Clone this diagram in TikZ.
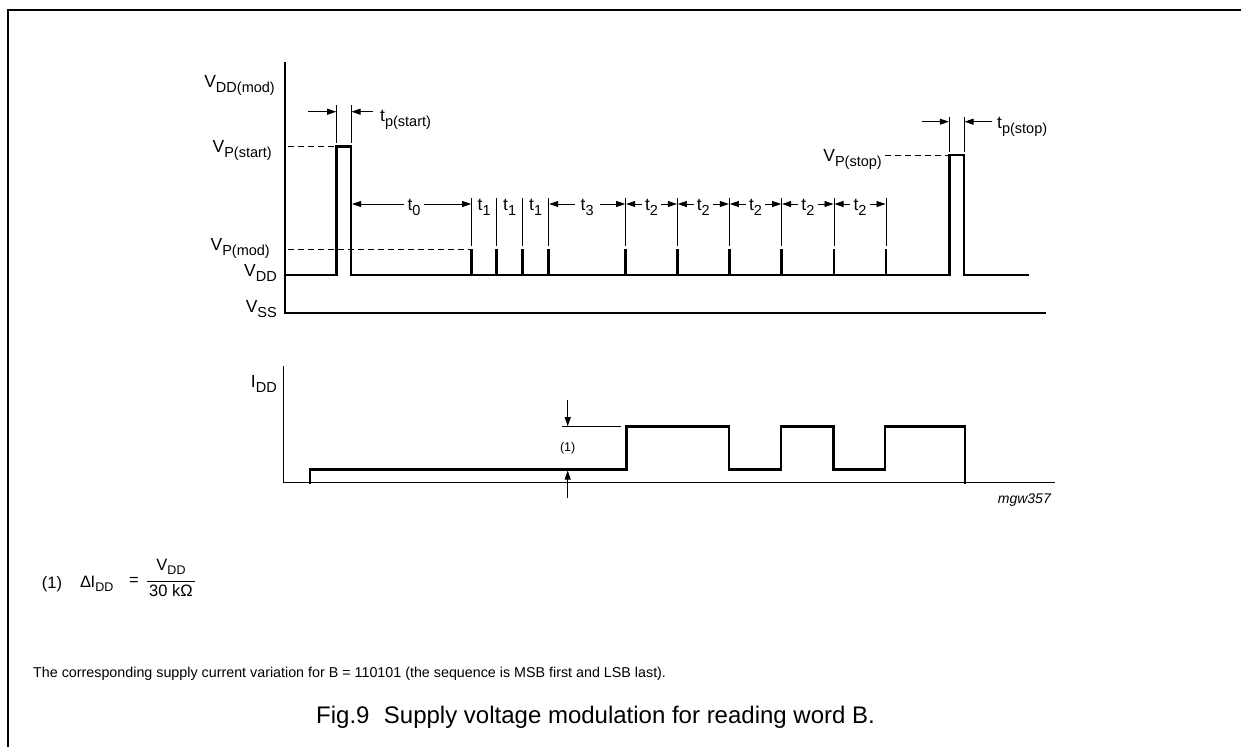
\documentclass[tikz,border=0pt]{standalone}
\usepackage{fontspec}
\setmainfont{Liberation Sans}
\usetikzlibrary{arrows.meta}
\newcommand\lb[2]{#1\raisebox{-5pt}{\fontsize{14.5}{14.5}\selectfont #2}}
\newcommand\lbs[2]{#1\raisebox{-4pt}{\fontsize{12.5}{12.5}\selectfont #2}}
\begin{document}
\begin{tikzpicture}[x=1pt,y=-1pt,
  wave/.style={line width=2.8pt, line join=miter, line cap=rect},
  axisline/.style={line width=1.3pt},
  ext/.style={line width=0.8pt},
  dimarrow/.style={line width=0.8pt, -{Triangle[length=9pt,width=6pt]}},
  dashline/.style={line width=1pt, dash pattern=on 6pt off 4pt},
  lab/.style={font=\fontsize{17.5}{17.5}\selectfont, inner sep=0pt},
  tlab/.style={font=\fontsize{17.5}{17.5}\selectfont, inner ysep=0pt, inner xsep=3pt, anchor=base}]
\useasboundingbox (0,0) rectangle (1241,747);
% frame
\draw[line width=2pt] (7.5,747) -- (7.5,9.5) -- (1241,9.5);

% ---------- top chart ----------
\draw[axisline] (285,62) -- (285,313) -- (1046,313);
\draw[wave] (285,275) -- (336.7,275) -- (336.7,146.7) -- (351,146.7) -- (351,275)
  -- (949.3,275) -- (949.3,155) -- (964,155) -- (964,275) -- (1028,275);
\foreach \x in {471.7,496.7,522.7,548.7,625.7,677.3,729.3,781.7,834,886}{
  \draw[wave] (\x,275) -- (\x,250);
  \draw[ext] (\x,198) -- (\x,245.5);
}
\draw[dashline] (288,146.7) -- (336,146.7);
\draw[dashline] (288,249.3) -- (470,249.3);
\draw[dashline] (885,155) -- (948,155);

% axis labels
\node[lab, anchor=base east] (vddmod) at (275,87) {\lb{V}{DD(mod)}};
\node[lab, anchor=base east] (vpstart) at (272,152) {\lb{V}{P(start)}};
\node[lab, anchor=base east] (vpmod) at (270,250) {\lb{V}{P(mod)}};
\node[lab, anchor=base east] (vdd) at (277,276) {\lb{V}{DD}};
\node[lab, anchor=base east] (vss) at (277,312) {\lb{V}{SS}};
\node[lab, anchor=base east] (vpstop) at (882,161) {\lb{V}{P(stop)}};

% t_p(start)
\draw[ext] (336.7,105) -- (336.7,143);
\draw[ext] (351,105) -- (351,143);
\draw[dimarrow] (308,111.7) -- (336.2,111.7);
\draw[dimarrow] (373,111.7) -- (351.5,111.7);
\node[lab, anchor=base west] (tpstart) at (380,121) {\lb{t}{p(start)}};

% t_p(stop)
\draw[ext] (949.3,116.7) -- (949.3,152);
\draw[ext] (964,116.7) -- (964,152);
\draw[dimarrow] (921.7,121.7) -- (948.8,121.7);
\draw[dimarrow] (991.7,121.7) -- (964.5,121.7);
\node[lab, anchor=base west] (tpstop) at (997,128) {\lb{t}{p(stop)}};

% t row
\coordinate (ya) at (0,204);
\node[tlab] (t0) at (414,210) {\lb{t}{0}};
\draw[dimarrow] (t0.west |- ya) -- (352,204);
\draw[dimarrow] (t0.east |- ya) -- (471.2,204);
\node[tlab] (t1a) at (484.2,210) {\lb{t}{1}};
\node[tlab] (t1b) at (509.7,210) {\lb{t}{1}};
\node[tlab] (t1c) at (535.7,210) {\lb{t}{1}};
\node[tlab, inner xsep=6pt] (t3) at (587.2,210) {\lb{t}{3}};
\draw[dimarrow] (t3.west |- ya) -- (549.2,204);
\draw[dimarrow] (t3.east |- ya) -- (625.2,204);
\foreach \a/\b/\n in {625.7/677.3/a,677.3/729.3/b,729.3/781.7/c,781.7/834/d,834/886/e}{
  \node[tlab] (t2\n) at ({(\a+\b)/2},210) {\lb{t}{2}};
  \draw[dimarrow] (t2\n.west |- ya) -- (\a+0.5,204);
  \draw[dimarrow] (t2\n.east |- ya) -- (\b-0.5,204);
}

% ---------- bottom chart ----------
\draw[axisline] (283.3,366) -- (283.3,482.7) -- (1055,482.7);
\draw[wave] (310,482.7) -- (310,469.3) -- (626.7,469.3) -- (626.7,426.7) -- (729,426.7)
  -- (729,469.3) -- (781,469.3) -- (781,426.7) -- (833.3,426.7) -- (833.3,469.3)
  -- (885,469.3) -- (885,426.7) -- (965,426.7) -- (965,482.7);
\node[lab, anchor=base east] (idd) at (277,387) {\lb{I}{DD}};
\draw[ext] (561.7,426.7) -- (620.7,426.7);
\draw[dimarrow] (567.7,400) -- (567.7,426.2);
\draw[dimarrow] (567.7,498) -- (567.7,470.5);
\node[font=\fontsize{12.5}{12.5}\selectfont, inner sep=0pt] (one) at (567.7,448) {(1)};
\node[font=\fontsize{14}{14}\selectfont\itshape, inner sep=0pt, anchor=base east] (code) at (1051,503) {mgw357};

% ---------- footnote ----------
\node[font=\fontsize{16.5}{16.5}\selectfont, inner sep=0pt, anchor=base west] (fn1) at (41.7,588) {(1)};
\node[font=\fontsize{16.5}{16.5}\selectfont, inner sep=0pt, anchor=base west] (didd) at (80,587) {\lbs{Δ\kern-0.5pt I}{DD}};
\node[font=\fontsize{16.5}{16.5}\selectfont, inner sep=0pt] (eq) at (134,581.5) {=};
\draw[line width=1pt] (147,581.5) -- (195,581.5);
\node[font=\fontsize{16.5}{16.5}\selectfont, inner sep=0pt, anchor=base] (num) at (171,570) {\lbs{V}{DD}};
\node[font=\fontsize{16.5}{16.5}\selectfont, inner sep=0pt, anchor=base] (den) at (171,596) {30 kΩ};

\node[font=\fontsize{14.3}{14.3}\selectfont, inner sep=0pt, anchor=base west] (note) at (33,677)
  {The corresponding supply current variation for B = 110101 (the sequence is MSB first and LSB last).};
\node[font=\fontsize{24}{24}\selectfont, inner sep=0pt, anchor=base west] (cap) at (316,723.5)
  {Fig.9\hspace{0.6em}Supply voltage modulation for reading word B.};
\end{tikzpicture}
\end{document}
